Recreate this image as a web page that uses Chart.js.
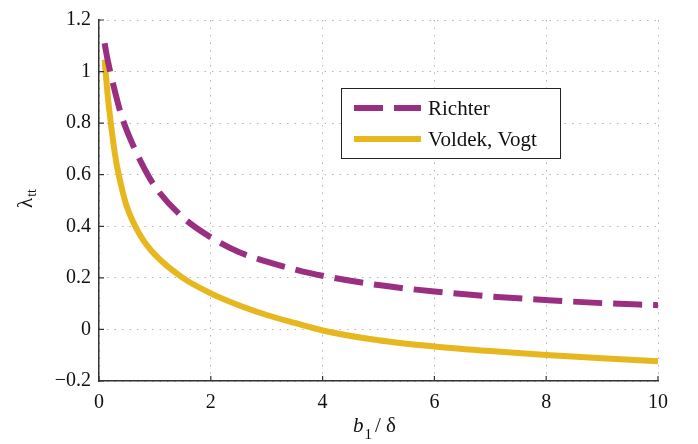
<!DOCTYPE html>
<html>
<head>
<meta charset="utf-8">
<script src="https://cdn.jsdelivr.net/npm/chart.js@4.4.1/dist/chart.umd.min.js"></script>
<style>
  html, body { margin: 0; padding: 0; background: #fff; }
  #wrap { width: 698px; height: 444px; }
</style>
</head>
<body>
<div id="wrap"><canvas id="myChart" width="698" height="444"></canvas></div>
<script>
//  data
const ratio = [0.1, 0.15, 0.2, 0.3, 0.4, 0.5, 0.75, 1, 1.5, 2, 2.5, 3, 3.5, 4, 5, 6, 7, 8, 9, 10]
const richter = [1.11, 1.05, 1.0, 0.91, 0.83, 0.77, 0.65, 0.555, 0.435, 0.357, 0.30, 0.263, 0.233, 0.208, 0.172, 0.147, 0.128, 0.114, 0.102, 0.094]
const voldek = [1.046, 0.92, 0.82, 0.66, 0.555, 0.475, 0.36, 0.29, 0.2, 0.14, 0.094, 0.056, 0.025, -0.004, -0.042, -0.066, -0.084, -0.099, -0.112, -0.123]
const seriesNames = ['Richter', 'Voldek, Vogt']
const xTicks = [0, 2, 4, 6, 8, 10]
const yTicks = [-0.2, 0, 0.2, 0.4, 0.6, 0.8, 1, 1.2]

const purple = '#9a2f82'
const yellow = '#e6b71e'
const serif = "'Liberation Serif', 'Times New Roman', serif"

function toPoints(ys) {
    return ratio.map((x, i) => ({ x: x, y: ys[i] }))
}

function fmt(v) {
    return String(Math.round(v * 10) / 10).replace('-', '\u2212')
}

//  titles with subscripts, inward tick marks, legend box
const extras = {
    id: 'extras',
    afterDraw(chart) {
        const ctx = chart.ctx
        const xs = chart.scales.x, ys = chart.scales.y
        const area = chart.chartArea
        ctx.save()

        // inward ticks
        ctx.strokeStyle = '#333'
        ctx.lineWidth = 1.2
        ctx.beginPath()
        xTicks.forEach(t => {
            const px = xs.getPixelForValue(t)
            ctx.moveTo(px, area.bottom)
            ctx.lineTo(px, area.bottom - 5)
        })
        yTicks.forEach(t => {
            const py = ys.getPixelForValue(t)
            ctx.moveTo(area.left, py)
            ctx.lineTo(area.left + 5, py)
        })
        ctx.stroke()

        // x title: b1 / δ
        ctx.fillStyle = '#111'
        ctx.textBaseline = 'alphabetic'
        ctx.textAlign = 'left'
        let x = 353, y = 432
        ctx.font = 'italic 21px ' + serif
        ctx.fillText('b', x, y)
        x += ctx.measureText('b').width + 1
        ctx.font = '15px ' + serif
        ctx.fillText('1', x, y + 7)
        x += ctx.measureText('1').width + 3
        ctx.font = '21px ' + serif
        ctx.fillText('/ \u03b4', x, y)

        // y title: λtt rotated
        ctx.save()
        ctx.translate(32, 208)
        ctx.rotate(-Math.PI / 2)
        ctx.font = '21px ' + serif
        ctx.fillText('\u03bb', 0, 0)
        const w = ctx.measureText('\u03bb').width
        ctx.font = '14px ' + serif
        ctx.fillText('tt', w + 1, 4)
        ctx.restore()

        // legend
        const lx = 341, ly = 88, lw = 219, lh = 70
        ctx.fillStyle = '#fff'
        ctx.fillRect(lx, ly, lw, lh)
        ctx.strokeStyle = '#222'
        ctx.lineWidth = 1
        ctx.strokeRect(lx + 0.5, ly + 0.5, lw, lh)
        chart.data.datasets.forEach((ds, i) => {
            const cy = ly + 20 + i * 31
            ctx.strokeStyle = ds.borderColor
            ctx.lineWidth = 6
            ctx.lineCap = 'butt'
            ctx.setLineDash(ds.borderDash || [])
            ctx.beginPath()
            ctx.moveTo(lx + 13, cy)
            ctx.lineTo(lx + 80, cy)
            ctx.stroke()
            ctx.setLineDash([])
            ctx.fillStyle = '#111'
            ctx.font = '21px ' + serif
            ctx.textBaseline = 'middle'
            ctx.fillText(ds.label, lx + 87, cy + 1)
        })
        ctx.restore()
    }
}

const ctx = document.getElementById('myChart')

new Chart(ctx, {
    type: 'line',
    data: {
        datasets: [{
            label: seriesNames[0],
            data: toPoints(richter),
            borderColor: purple,
            borderWidth: 6,
            borderDash: [29, 11],
            borderCapStyle: 'butt',
            pointRadius: 0,
            cubicInterpolationMode: 'monotone',
            fill: false
        }, {
            label: seriesNames[1],
            data: toPoints(voldek),
            borderColor: yellow,
            borderWidth: 6,
            pointRadius: 0,
            cubicInterpolationMode: 'monotone',
            fill: false
        }]
    },
    options: {
        responsive: false,
        animation: false,
        layout: { padding: { top: 10, right: 40, left: 0, bottom: 0 } },
        plugins: {
            legend: { display: false },
            tooltip: { enabled: false }
        },
        scales: {
            x: {
                type: 'linear',
                min: 0,
                max: 10,
                afterBuildTicks: s => { s.ticks = xTicks.map(v => ({ value: v })) },
                afterFit: s => { s.height = 63 },
                grid: { color: '#b5b5b5', lineWidth: 1, drawTicks: false },
                border: { display: true, color: '#333', width: 1.5, dash: [1.5, 6] },
                ticks: {
                    padding: 10,
                    color: '#111',
                    font: { family: serif, size: 20 },
                    maxRotation: 0,
                    callback: v => fmt(v)
                }
            },
            y: {
                type: 'linear',
                min: -0.2,
                max: 1.2,
                afterBuildTicks: s => { s.ticks = yTicks.map(v => ({ value: v })) },
                afterFit: s => { s.width = 99 },
                grid: { color: '#b5b5b5', lineWidth: 1, drawTicks: false },
                border: { display: true, color: '#333', width: 1.5, dash: [1.5, 6] },
                ticks: {
                    padding: 8,
                    color: '#111',
                    font: { family: serif, size: 20 },
                    callback: v => fmt(v)
                }
            }
        }
    },
    plugins: [extras]
})
</script>
</body>
</html>
